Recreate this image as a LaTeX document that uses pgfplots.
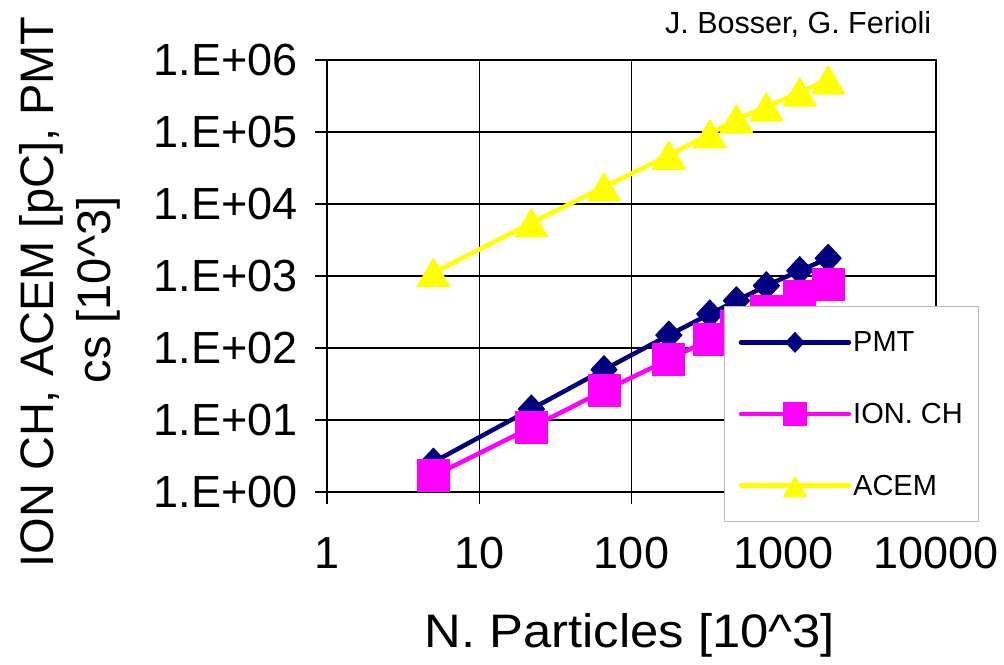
\documentclass[border=0pt]{standalone}
\usepackage{pgfplots}
\pgfplotsset{compat=1.18}
\usepackage{fontspec}
\setmainfont{Liberation Sans}
\newfontfamily\xlabfont{Liberation Sans}[FakeStretch=1.08]
\definecolor{pmt}{RGB}{0,0,128}
\definecolor{ion}{RGB}{255,0,255}
\definecolor{acem}{RGB}{255,255,0}
\begin{document}
\begin{tikzpicture}
\path[use as bounding box] (0,0) rectangle (1004pt,664pt);
\begin{axis}[
  at={(327pt,172pt)}, anchor=south west,
  scale only axis, width=609pt, height=432pt,
  xmode=log, ymode=log,
  xmin=1, xmax=10000, ymin=1, ymax=1e6,
  xtick={1,10,100,1000,10000},
  xticklabels={1,10,100,1000,10000},
  ytick={1,10,100,1000,10000,100000,1000000},
  yticklabels={1.E+00,1.E+01,1.E+02,1.E+03,1.E+04,1.E+05,1.E+06},
  minor xtick={}, minor ytick={}, minor tick length=0pt,
  ymajorgrids,
  major grid style={black, line width=1.3pt},
  extra x ticks={10,100},
  extra x tick style={grid=major, major tick length=0pt, xticklabel={}},
  tick pos=left, tick align=outside, major tick length=12pt,
  tick style={black, line width=1.3pt},
  axis line style={black, line width=1.3pt},
  ticklabel style={font=\fontsize{45}{54}\selectfont},
  xticklabel style={anchor=base, yshift=-65pt},
  yticklabel style={anchor=east, xshift=-14pt},
  clip=false,
  legend style={at={(0.652,0.4306)}, anchor=north west, draw=black!28, line width=1.3pt, fill=white,
    font=\fontsize{29}{32}\selectfont, inner xsep=14pt, inner ysep=23pt, row sep=46pt,
    cells={anchor=west}, nodes={inner sep=2pt}},
  legend image code/.code={\draw[mark repeat=2, mark phase=2, #1, every mark/.append style={scale=0.7}] plot coordinates {(0pt,0pt) (54pt,0pt) (108pt,0pt)};},
]
\addplot[color=pmt, line width=4.5pt, line join=round, line cap=round, mark=diamond*, mark size=14pt,
  mark options={xscale=1.25, line width=1pt, fill=pmt}] coordinates {
  (5,2.6) (22,14.2) (66,50) (176,151) (327,297) (489,454) (769,733) (1274,1186) (1958,1762)};
\addlegendentry{PMT}
\addplot[color=ion, line width=4.5pt, line join=round, line cap=round, mark=square*, mark size=16pt,
  mark options={line width=1pt, fill=ion}] coordinates {
  (5,1.67) (22,7.9) (66,25.5) (176,68.8) (327,133) (489,200) (769,319) (1274,527) (1958,767)};
\addlegendentry{ION. CH}
\addplot[color=acem, line width=4.5pt, line join=round, line cap=round, mark=triangle*, mark size=18.5pt,
  mark options={yshift=-4.5pt, line width=1.5pt, line join=round, fill=acem}] coordinates {
  (5,1110) (22,5450) (66,17200) (176,47500) (327,93800) (489,151000) (769,222000) (1274,359000) (1958,527000)};
\addlegendentry{ACEM}
\node[rotate=90, anchor=base, font=\fontsize{47}{56}\selectfont] at (axis description cs:-0.4494,0.463) {ION CH, ACEM [pC], PMT};
\node[rotate=90, anchor=base, font=\fontsize{47}{56}\selectfont] at (axis description cs:-0.3563,0.4676) {cs [10\textasciicircum3]};
\node[anchor=base, font=\xlabfont\fontsize{47}{56}\selectfont] at (axis description cs:0.4975,-0.361) {N. Particles [10\textasciicircum3]};
\node[anchor=base east, font=\fontsize{30.5}{34}\selectfont] at (axis description cs:0.998,1.0618) {J. Bosser, G. Ferioli};
\end{axis}
\end{tikzpicture}
\end{document}
